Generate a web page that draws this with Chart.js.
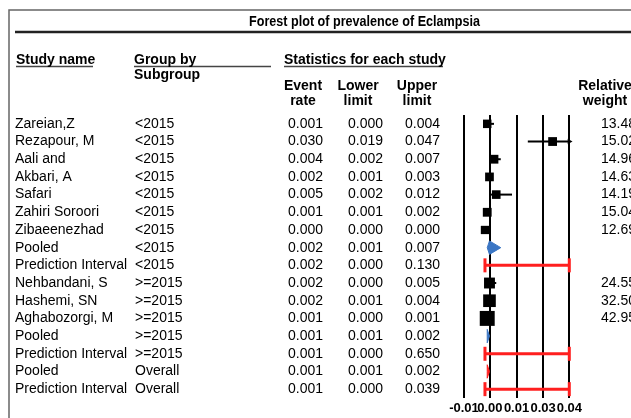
<!DOCTYPE html>
<html><head><meta charset="utf-8">
<script src="https://cdn.jsdelivr.net/npm/chart.js@4.4.1/dist/chart.umd.min.js"></script>
<style>html,body{margin:0;padding:0;background:#fff;overflow:hidden}canvas{display:block}</style>
</head><body>
<canvas id="c" width="631" height="418"></canvas>
<script>
// ---------- data ----------
const studyNames = ['Zareian,Z','Rezapour, M','Aali and','Akbari, A','Safari','Zahiri Soroori','Zibaeenezhad','Pooled','Prediction Interval','Nehbandani, S','Hashemi, SN','Aghabozorgi, M','Pooled','Prediction Interval','Pooled','Prediction Interval'];
const subgroups = ['<2015','<2015','<2015','<2015','<2015','<2015','<2015','<2015','<2015','>=2015','>=2015','>=2015','>=2015','>=2015','Overall','Overall'];
const rowKinds = ['study','study','study','study','study','study','study','pooled','pi','study','study','study','pooled','pi','pooled','pi'];
const eventRates  = [0.001,0.030,0.004,0.002,0.005,0.001,0.000,0.002,0.002,0.002,0.002,0.001,0.001,0.001,0.001,0.001];
const lowerLimits = [0.000,0.019,0.002,0.001,0.002,0.001,0.000,0.001,0.000,0.000,0.001,0.000,0.001,0.000,0.001,0.000];
const upperLimits = [0.004,0.047,0.007,0.003,0.012,0.002,0.000,0.007,0.130,0.005,0.004,0.001,0.002,0.650,0.002,0.039];
const relativeWeights = [13.48,15.02,14.96,14.63,14.19,15.04,12.69,null,null,24.55,32.50,42.95,null,null,null,null];
const xTickValues = [-0.0093,0.0022,0.0140,0.0258,0.0374];
const xTickLabels = ['-0.01','0.00','0.01','0.03','0.04'];

// ---------- styles ----------
const FONT = 'Arial, "Liberation Sans", Helvetica, sans-serif';
const RED = '#ff1f1f', BLUE = '#3b76c4';
Chart.defaults.font.family = FONT;
const X_MIN = xTickValues[0], X_MAX = xTickValues[xTickValues.length - 1];
const clampX = v => Math.min(Math.max(v, X_MIN), X_MAX);
const rows = studyNames.map((_, i) => i);

const datasets = [];
// confidence interval whiskers
rows.filter(i => rowKinds[i] === 'study').forEach(i => {
  datasets.push({
    data: [{x: clampX(lowerLimits[i]), y: i}, {x: clampX(upperLimits[i]), y: i}],
    showLine: true, borderColor: '#000', borderWidth: 2, pointRadius: 0, order: 3, clip: false
  });
});
// arrow where interval runs off the axis
const offRows = rows.filter(i => rowKinds[i] === 'study' && upperLimits[i] > X_MAX);
datasets.push({
  data: offRows.map(i => ({x: X_MAX, y: i})),
  pointStyle: 'triangle', rotation: 90, pointRadius: 3.2,
  backgroundColor: '#000', borderColor: '#000', borderWidth: 0, order: 2, clip: false
});
// study squares sized by relative weight
const studyRows = rows.filter(i => rowKinds[i] === 'study');
datasets.push({
  data: studyRows.map(i => ({x: eventRates[i], y: i})),
  pointStyle: 'rect',
  pointRadius: studyRows.map(i => (0.22 * relativeWeights[i] + 5.5) / Math.SQRT2),
  backgroundColor: '#000', borderColor: '#000', borderWidth: 0, order: 1, clip: false
});
// prediction intervals
rows.filter(i => rowKinds[i] === 'pi').forEach(i => {
  datasets.push({
    data: [{x: clampX(lowerLimits[i]), y: i}, {x: clampX(upperLimits[i]), y: i}],
    showLine: true, borderColor: RED, borderWidth: 3,
    pointStyle: 'line', rotation: 90, pointRadius: 7, pointBorderWidth: 3,
    pointBorderColor: RED, pointBackgroundColor: RED, order: 2, clip: false
  });
});
// pooled diamonds
const DH = 0.38;
rows.filter(i => rowKinds[i] === 'pooled').forEach(i => {
  const col = subgroups[i] === 'Overall' ? RED : BLUE;
  datasets.push({
    data: [
      {x: lowerLimits[i], y: i}, {x: eventRates[i], y: i - DH},
      {x: upperLimits[i], y: i}, {x: eventRates[i], y: i + DH},
      {x: lowerLimits[i], y: i}
    ],
    showLine: true, fill: 'shape', backgroundColor: col, borderColor: col,
    borderWidth: 1, pointRadius: 0, order: 1, clip: false
  });
});

// ---------- table / frame plugin ----------
const tablePlugin = {
  id: 'forestTable',
  beforeDraw(chart) {
    const ctx = chart.ctx;
    ctx.save();
    ctx.fillStyle = '#fff';
    ctx.fillRect(0, 0, chart.width, chart.height);
    ctx.strokeStyle = '#666'; ctx.lineWidth = 1.5;
    ctx.beginPath(); ctx.moveTo(9, chart.height); ctx.lineTo(9, 10); ctx.lineTo(chart.width, 10); ctx.stroke();
    ctx.strokeStyle = '#222'; ctx.lineWidth = 2.5;
    ctx.beginPath(); ctx.moveTo(15, 32); ctx.lineTo(chart.width, 32); ctx.stroke();
    ctx.strokeStyle = '#444'; ctx.lineWidth = 1.5;
    [[16, 93], [134, 271], [284, 443]].forEach(([a, b]) => {
      ctx.beginPath(); ctx.moveTo(a, 66.5); ctx.lineTo(b, 66.5); ctx.stroke();
    });
    ctx.restore();
  },
  afterDraw(chart) {
    const ctx = chart.ctx, ys = chart.scales.y;
    ctx.save();
    ctx.fillStyle = '#000';
    ctx.textBaseline = 'middle';
    // title
    ctx.font = 'bold 15px ' + FONT;
    ctx.textAlign = 'center';
    ctx.fillText('Forest plot of prevalence of Eclampsia', 364.5, 22, 231);
    // headers
    ctx.font = 'bold 14px ' + FONT;
    ctx.textAlign = 'left';
    ctx.fillText('Study name', 16, 60);
    ctx.fillText('Group by', 134, 60);
    ctx.fillText('Subgroup', 134, 75);
    ctx.fillText('Statistics for each study', 284, 60);
    ctx.textAlign = 'center';
    [['Event', 'rate', 303], ['Lower', 'limit', 358], ['Upper', 'limit', 417], ['Relative', 'weight', 605]].forEach(([a, b, x]) => {
      ctx.fillText(a, x, 86);
      ctx.fillText(b, x, 101);
    });
    // body
    ctx.font = '14px ' + FONT;
    rows.forEach(i => {
      const y = ys.getPixelForValue(i);
      ctx.textAlign = 'left';
      ctx.fillText(studyNames[i], 15, y);
      ctx.fillText(subgroups[i], 135, y);
      ctx.textAlign = 'right';
      ctx.fillText(eventRates[i].toFixed(3), 323, y);
      ctx.fillText(lowerLimits[i].toFixed(3), 383, y);
      ctx.fillText(upperLimits[i].toFixed(3), 440, y);
      if (relativeWeights[i] !== null) {
        ctx.textAlign = 'left';
        ctx.fillText(relativeWeights[i].toFixed(2), 601, y);
      }
    });
    ctx.restore();
  }
};

new Chart(document.getElementById('c'), {
  type: 'scatter',
  data: {datasets},
  plugins: [tablePlugin],
  options: {
    responsive: false,
    animation: false,
    events: [],
    layout: {padding: {left: 464, right: 61.7, top: 115, bottom: 0}},
    plugins: {legend: {display: false}, tooltip: {enabled: false}},
    scales: {
      x: {
        type: 'linear', min: X_MIN, max: X_MAX,
        afterBuildTicks: s => { s.ticks = xTickValues.map(v => ({value: v})); },
        afterFit: s => { s.height = 20; },
        grid: {color: '#000', lineWidth: 2, drawTicks: false},
        border: {display: false},
        ticks: {
          autoSkip: false, maxRotation: 0, minRotation: 0, padding: 3, color: '#000',
          font: {weight: 'bold', size: 13},
          callback: (v, idx) => xTickLabels[idx]
        }
      },
      y: {type: 'linear', min: -0.5, max: 15.5, reverse: true, display: false}
    }
  }
});
</script>
</body></html>
